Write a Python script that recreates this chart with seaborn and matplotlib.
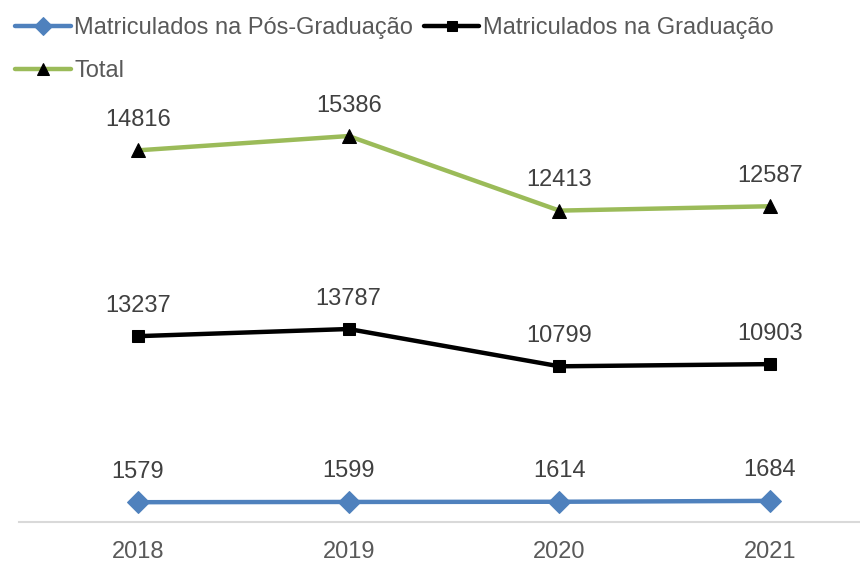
import matplotlib
matplotlib.use("Agg")
import matplotlib.pyplot as plt
import seaborn as sns
import numpy as np
import pandas as pd

years = ["2018", "2019", "2020", "2021"]
pos_grad = [1579, 1599, 1614, 1684]
graduacao = [13237, 13787, 10799, 10903]
total = [14816, 15386, 12413, 12587]

sns.set_style("white")
plt.rcParams['font.family'] = ['Liberation Sans', 'DejaVu Sans']

fig = plt.figure(figsize=(8.6, 5.63), dpi=100)
ax = fig.add_axes([19/860, 1 - 522/563, 1 - 19/860, (522 - 83)/563])

x = np.arange(len(years))
# stacked line chart
cum1 = np.array(pos_grad)
cum2 = cum1 + np.array(graduacao)
cum3 = cum2 + np.array(total)

series = [
    ("Matriculados na Pós-Graduação", cum1, pos_grad, "#4F81BD", "D", 11, "#4F81BD"),
    ("Matriculados na Graduação", cum2, graduacao, "#000000", "s", 9, "#000000"),
    ("Total", cum3, total, "#9BBB59", "^", 10, "#000000"),
]
for name, ys, raw, color, marker, ms, mc in series:
    df = pd.DataFrame({"x": x, "y": ys})
    sns.lineplot(data=df, x="x", y="y", ax=ax, color=color, linewidth=3.2,
                 marker=marker, markersize=ms, markerfacecolor=mc,
                 markeredgecolor=mc, label=name)
    for xi, yi, r in zip(x, ys, raw):
        ax.annotate(str(r), (xi, yi), xytext=(0, 14), textcoords="offset points",
                    ha="center", va="bottom", fontsize=17, color="#404040")

ax.set_xlim((19 - 138) / 210.67, (860 - 138) / 210.67)
ax.set_ylim(0, 35000)
ax.set_xticks(x)
ax.set_xticklabels(years, fontsize=17, color="#595959")
ax.tick_params(axis="x", length=0, pad=14)
ax.set_yticks([])
ax.set_xlabel("")
ax.set_ylabel("")
for s in ["left", "right", "top"]:
    ax.spines[s].set_visible(False)
ax.spines["bottom"].set_color("#D9D9D9")
ax.spines["bottom"].set_linewidth(1.5)

h, l = ax.get_legend_handles_labels()
if ax.get_legend():
    ax.get_legend().remove()
order = [0, 2, 1]
leg = fig.legend([h[i] for i in order], [l[i] for i in order], ncol=2,
                 loc="upper left", bbox_to_anchor=(0.0, 0.997), frameon=False,
                 fontsize=17, handlelength=2.35, handletextpad=0.15,
                 columnspacing=0.45, labelspacing=0.9, borderaxespad=0.25,
                 markerscale=0.85)
for t in leg.get_texts():
    t.set_color("#595959")

fig.savefig("out.png", dpi=100)
